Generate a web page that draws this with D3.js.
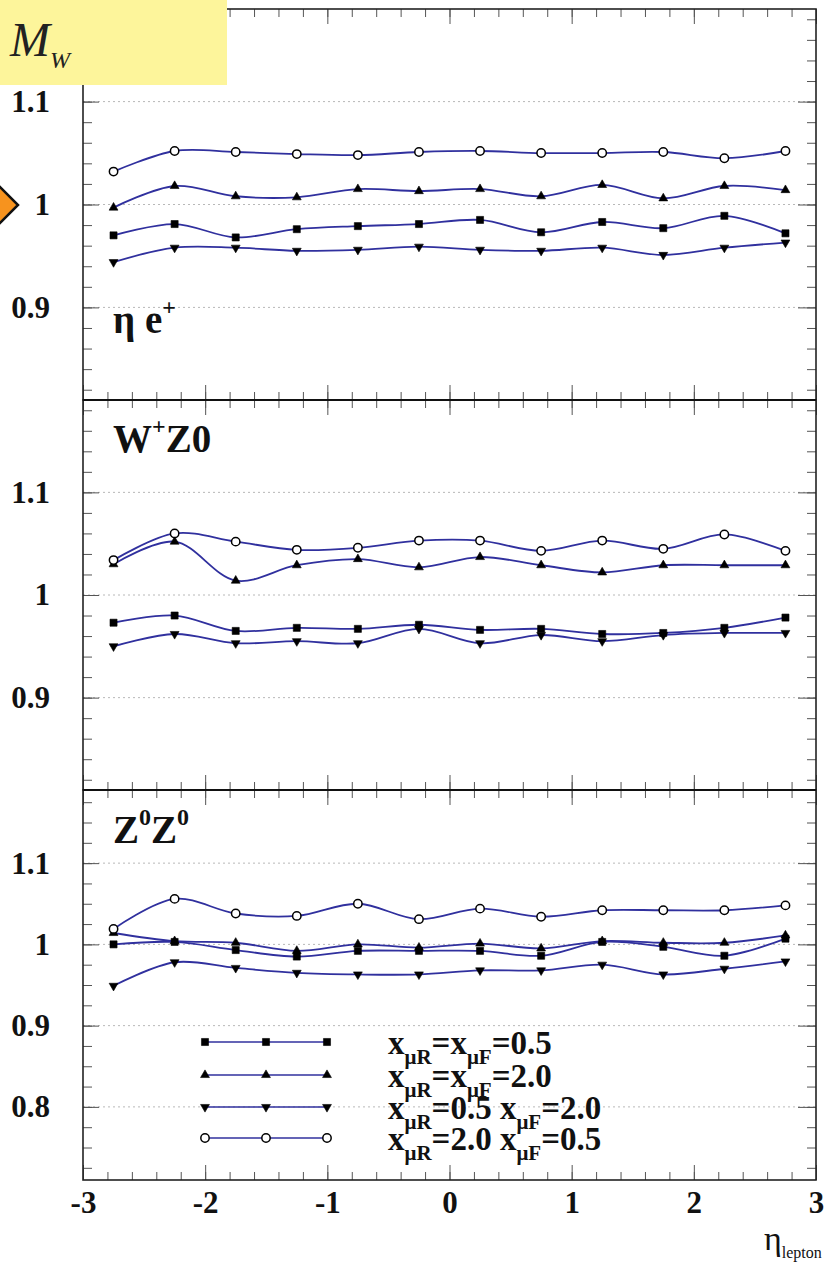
<!DOCTYPE html>
<html>
<head>
<meta charset="utf-8">
<script src="https://cdn.jsdelivr.net/npm/d3@7"></script>
<style>
  body { margin: 0; background: #fff; }
  svg { display: block; font-family: "Liberation Serif", "DejaVu Serif", serif; }
</style>
</head>
<body>
<div id="chart"></div>
<script>
// eta bin centres (x values of every point)
const etaBins = [-2.75, -2.25, -1.75, -1.25, -0.75, -0.25, 0.25, 0.75, 1.25, 1.75, 2.25, 2.75];
const xTickLabels = [-3, -2, -1, 0, 1, 2, 3];

// scale choices, legend text (^{..} superscript, _{..} subscript)
const seriesLabels = [
  "x_{μR}=x_{μF}=0.5",
  "x_{μR}=x_{μF}=2.0",
  "x_{μR}=0.5 x_{μF}=2.0",
  "x_{μR}=2.0 x_{μF}=0.5"
];
const panelNames = ["η e^{+}", "W^{+}Z0", "Z^{0}Z^{0}"];

// panel 1 : eta e+
const ePlusHalf    = [0.970, 0.981, 0.968, 0.976, 0.979, 0.981, 0.985, 0.973, 0.983, 0.977, 0.989, 0.972];
const ePlusTwo     = [0.997, 1.018, 1.008, 1.007, 1.015, 1.013, 1.015, 1.008, 1.019, 1.006, 1.018, 1.014];
const ePlusHalfTwo = [0.944, 0.958, 0.958, 0.955, 0.956, 0.959, 0.956, 0.955, 0.958, 0.951, 0.958, 0.963];
const ePlusTwoHalf = [1.032, 1.052, 1.051, 1.049, 1.048, 1.051, 1.052, 1.050, 1.050, 1.051, 1.045, 1.052];

// panel 2 : W+Z0
const wzHalf    = [0.973, 0.980, 0.965, 0.968, 0.967, 0.971, 0.966, 0.967, 0.962, 0.963, 0.968, 0.978];
const wzTwo     = [1.030, 1.052, 1.014, 1.029, 1.035, 1.027, 1.037, 1.029, 1.022, 1.029, 1.029, 1.029];
const wzHalfTwo = [0.950, 0.962, 0.953, 0.955, 0.953, 0.967, 0.953, 0.961, 0.955, 0.961, 0.963, 0.963];
const wzTwoHalf = [1.034, 1.060, 1.052, 1.044, 1.046, 1.053, 1.053, 1.043, 1.053, 1.045, 1.059, 1.043];

// panel 3 : Z0Z0
const zzHalf    = [1.000, 1.003, 0.993, 0.985, 0.992, 0.992, 0.992, 0.986, 1.003, 0.997, 0.986, 1.007];
const zzTwo     = [1.014, 1.004, 1.002, 0.992, 1.000, 0.996, 1.001, 0.995, 1.004, 1.002, 1.002, 1.011];
const zzHalfTwo = [0.949, 0.978, 0.971, 0.965, 0.963, 0.963, 0.968, 0.968, 0.975, 0.963, 0.970, 0.979];
const zzTwoHalf = [1.019, 1.056, 1.038, 1.035, 1.050, 1.031, 1.044, 1.034, 1.042, 1.042, 1.042, 1.048];

const width = 827, height = 1271;
const left = 83, right = 816;
const lineColor = "#30309e";

const panels = [
  { name: panelNames[0], top: 9,   bottom: 400,  domain: [0.81, 1.19], majors: [0.9, 1, 1.1],      minorStep: 0.02,
    series: [ePlusHalf, ePlusTwo, ePlusHalfTwo, ePlusTwoHalf], labelY: 333 },
  { name: panelNames[1], top: 400, bottom: 790,  domain: [0.81, 1.19], majors: [0.9, 1, 1.1],      minorStep: 0.02,
    series: [wzHalf, wzTwo, wzHalfTwo, wzTwoHalf], labelY: 452 },
  { name: panelNames[2], top: 790, bottom: 1180, domain: [0.71, 1.19], majors: [0.8, 0.9, 1, 1.1], minorStep: 0.025,
    series: [zzHalf, zzTwo, zzHalfTwo, zzTwoHalf], labelY: 843 }
];

// marker per series
const markers = [
  { type: d3.symbolSquare,   size: 50, rot: 0,   fill: "#000" },
  { type: d3.symbolTriangle, size: 34, rot: 0,   fill: "#000" },
  { type: d3.symbolTriangle, size: 34, rot: 180, fill: "#000" },
  { type: d3.symbolCircle,   size: 55, rot: 0,   fill: "#fff" }
];

const svg = d3.select("#chart").append("svg")
  .attr("width", width)
  .attr("height", height);

const x = d3.scaleLinear().domain([-3, 3]).range([left, right]);

// writes "a_{b}^{c}" style strings as tspans
function richText(sel, str, size, subSize, subShift) {
  const parts = str.match(/(_\{[^}]*\}|\^\{[^}]*\}|[^_^]+)/g);
  let shift = 0;
  parts.forEach(p => {
    let t = p, dy = 0, fs = size;
    if (p.startsWith("_{")) { t = p.slice(2, -1); dy = subShift; fs = subSize; }
    else if (p.startsWith("^{")) { t = p.slice(2, -1); dy = -subShift * 1.3; fs = subSize; }
    sel.append("tspan")
      .attr("dy", dy - shift)
      .attr("font-size", fs)
      .text(t);
    shift = dy;
  });
}

function drawMarker(g, m, px, py) {
  g.append("path")
    .attr("d", d3.symbol().type(m.type).size(m.size)())
    .attr("transform", `translate(${px},${py}) rotate(${m.rot})`)
    .attr("fill", m.fill)
    .attr("stroke", "#000")
    .attr("stroke-width", m.fill === "#fff" ? 1.5 : 0.6);
}

panels.forEach((p, pi) => {
  const y = d3.scaleLinear().domain(p.domain).range([p.bottom, p.top]);
  const g = svg.append("g");

  // dotted grid at major values
  g.selectAll(".grid")
    .data(p.majors)
    .enter().append("line")
    .attr("x1", left).attr("x2", right)
    .attr("y1", d => y(d)).attr("y2", d => y(d))
    .attr("stroke", "#b8b8b8")
    .attr("stroke-width", 1)
    .attr("stroke-dasharray", "2,3");

  // minor ticks on left/right
  const minors = d3.range(Math.ceil(p.domain[0] / p.minorStep) * p.minorStep, p.domain[1], p.minorStep)
    .map(v => +v.toFixed(3));
  g.append("g").attr("transform", `translate(${left},0)`)
    .call(d3.axisRight(y).tickValues(minors).tickSize(9).tickFormat(""));
  g.append("g").attr("transform", `translate(${left},0)`)
    .call(d3.axisRight(y).tickValues(p.majors).tickSize(16).tickFormat(""));
  g.append("g").attr("transform", `translate(${right},0)`)
    .call(d3.axisLeft(y).tickValues(minors).tickSize(9).tickFormat(""));
  g.append("g").attr("transform", `translate(${right},0)`)
    .call(d3.axisLeft(y).tickValues(p.majors).tickSize(18).tickFormat(""));

  // tick labels
  g.append("g").attr("transform", `translate(${left},0)`)
    .call(d3.axisLeft(y).tickValues(p.majors).tickSize(0).tickPadding(33).tickFormat(d3.format("~g")))
    .call(a => a.select(".domain").remove())
    .selectAll("text")
    .attr("font-family", "Liberation Serif, serif")
    .attr("font-weight", "bold")
    .attr("font-size", 31)
    .attr("fill", "#111");

  // x ticks top and bottom of the panel, pointing inward
  const xMinor = d3.range(-30, 31, 2).map(v => v / 10);
  g.append("g").attr("transform", `translate(0,${p.bottom})`)
    .call(d3.axisTop(x).tickValues(xMinor).tickSize(8).tickFormat(""));
  g.append("g").attr("transform", `translate(0,${p.bottom})`)
    .call(d3.axisTop(x).tickValues(xTickLabels).tickSize(15).tickFormat(""));
  g.append("g").attr("transform", `translate(0,${p.top})`)
    .call(d3.axisBottom(x).tickValues(xMinor).tickSize(8).tickFormat(""));
  g.append("g").attr("transform", `translate(0,${p.top})`)
    .call(d3.axisBottom(x).tickValues(xTickLabels).tickSize(15).tickFormat(""));

  g.selectAll(".tick line").attr("stroke", "#555").attr("stroke-width", 1);
  g.selectAll(".domain").attr("stroke", "none");

  // curves
  const line = d3.line()
    .x((d, i) => x(etaBins[i]))
    .y(d => y(d))
    .curve(d3.curveCatmullRom.alpha(0.5));

  p.series.forEach((vals, si) => {
    g.append("path")
      .attr("d", line(vals))
      .attr("fill", "none")
      .attr("stroke", lineColor)
      .attr("stroke-width", 1.8);
  });
  p.series.forEach((vals, si) => {
    vals.forEach((v, i) => drawMarker(g, markers[si], x(etaBins[i]), y(v)));
  });

  // panel label
  const lab = g.append("text")
    .attr("x", 113)
    .attr("y", p.labelY)
    .attr("font-weight", "bold")
    .attr("fill", "#111");
  richText(lab, p.name, 39, 24, 14);

  // frame
  g.append("rect")
    .attr("x", left).attr("y", p.top)
    .attr("width", right - left).attr("height", p.bottom - p.top)
    .attr("fill", "none")
    .attr("stroke", "#222")
    .attr("stroke-width", 1.6);
});

// dividing lines between panels drawn a bit heavier
[400, 790].forEach(yy => {
  svg.append("line")
    .attr("x1", left).attr("x2", right)
    .attr("y1", yy).attr("y2", yy)
    .attr("stroke", "#111")
    .attr("stroke-width", 2.2);
});

// x axis labels
svg.append("g")
  .attr("transform", "translate(0,1180)")
  .call(d3.axisBottom(x).tickValues(xTickLabels).tickSize(0).tickPadding(11).tickFormat(d => String(d)))
  .call(a => a.select(".domain").remove())
  .selectAll("text")
  .attr("font-family", "Liberation Serif, serif")
  .attr("font-weight", "bold")
  .attr("font-size", 31)
  .attr("fill", "#111");

const xt = svg.append("text")
  .attr("x", 764)
  .attr("y", 1250)
  .attr("fill", "#111");
richText(xt, "η_{lepton}", 34, 16, 8);

// legend
const legendRows = [1042, 1075, 1107, 1138];
seriesLabels.forEach((lab, si) => {
  const ly = legendRows[si];
  const lg = svg.append("g");
  lg.append("line")
    .attr("x1", 205).attr("x2", 327)
    .attr("y1", ly).attr("y2", ly)
    .attr("stroke", lineColor)
    .attr("stroke-width", 1.6);
  [205, 266, 327].forEach(px => drawMarker(lg, markers[si], px, ly));
  const t = lg.append("text")
    .attr("x", 388)
    .attr("y", ly + 12)
    .attr("font-weight", "bold")
    .attr("fill", "#111");
  richText(t, lab, 33, 21, 10);
});

// yellow title box with M_W
svg.append("rect")
  .attr("x", 0).attr("y", 0)
  .attr("width", 227).attr("height", 85)
  .attr("fill", "#fdf59b");
const mt = svg.append("text")
  .attr("x", 10)
  .attr("y", 56)
  .attr("font-style", "italic")
  .attr("fill", "#222");
richText(mt, "M_{W}", 48, 24, 12);

// orange pointer on the left edge
svg.append("path")
  .attr("d", "M-18,205 L0,187 L18,205 L0,223 Z")
  .attr("fill", "#f7931e")
  .attr("stroke", "#111")
  .attr("stroke-width", 2.5);
</script>
</body>
</html>
